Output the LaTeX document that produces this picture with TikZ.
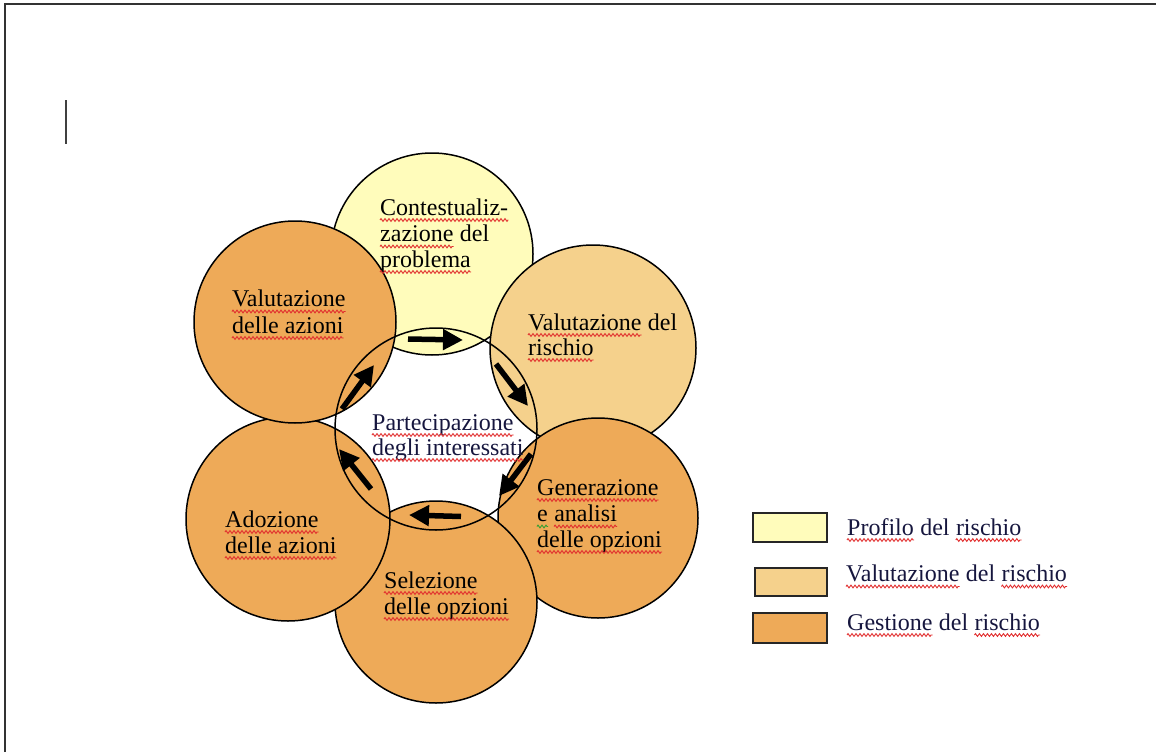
\documentclass[tikz,border=0pt]{standalone}
\usepackage{fontspec}
\setmainfont{Liberation Serif}
\usetikzlibrary{arrows.meta,decorations.pathmorphing}
\definecolor{cyel}{RGB}{255,252,187}
\definecolor{clor}{RGB}{245,209,140}
\definecolor{cor}{RGB}{238,170,88}
\definecolor{sqred}{RGB}{225,45,45}
\definecolor{sqgreen}{RGB}{50,160,50}
\definecolor{navy}{RGB}{22,22,62}
\tikzset{
  bubble/.style={circle, draw=black, line width=1.5pt, minimum size=202pt, inner sep=0pt},
  lbl/.style={anchor=base west, inner sep=0pt, font=\fontsize{24}{27}\selectfont},
  flow/.style={line width=5.5pt, -{Triangle[length=20pt,width=20pt]}},
  legbox/.style={draw=black!85, line width=2pt},
  sqline/.style={draw=sqred, line width=0.9pt, decorate,
    decoration={zigzag, segment length=4pt, amplitude=1.4pt}}
}
\newcommand\squ[2][sqred]{\draw[sqline, draw=#1] ([yshift=-5pt]#2.base west) -- ([yshift=-5pt]#2.base east);}
\begin{document}
\begin{tikzpicture}[x=1pt,y=-1pt]
\useasboundingbox (0,0) rectangle (1156,752);
% page frame and cursor
\draw[line width=2pt, draw=black!80] (5,752) -- (5,4.5) -- (1156,4.5);
\draw[line width=1.8pt, draw=black!75] (66,100) -- (66,144);
% circles
\node[bubble, fill=cyel] (ctx) at (432,254) {};
\node[bubble, fill=clor, minimum size=206pt] (vrs) at (593,348) {};
\node[bubble, fill=cor, minimum size=200pt] (gen) at (598,518) {};
\node[bubble, fill=cor] (sel) at (436,602) {};
\node[bubble, fill=cor, minimum size=204pt] (ado) at (288,519) {};
\node[bubble, fill=cor] (val) at (295,322) {};
\node[bubble] (par) at (436,429) {};
% arrows
\coordinate (a1s) at (408,339); \coordinate (a1e) at (463,340);
\coordinate (a2s) at (496,364); \coordinate (a2e) at (528,406);
\coordinate (a3s) at (531,454); \coordinate (a3e) at (499,496);
\coordinate (a4s) at (461,516.5); \coordinate (a4e) at (409,515);
\coordinate (a5s) at (371,489); \coordinate (a5e) at (339,449);
\coordinate (a6s) at (342,409); \coordinate (a6e) at (374,365);
\draw[flow] (a1s) -- (a1e);
\draw[flow] (a2s) -- (a2e);
\draw[flow] (a3s) -- (a3e);
\draw[flow] (a4s) -- (a4e);
\draw[flow] (a5s) -- (a5e);
\draw[flow] (a6s) -- (a6e);
% circle texts
\node[lbl] (t1a) at (380,215) {Contestualiz-};
\node[lbl] (t1b) at (380,241.5) {zazione};
\node[lbl] (t1b2) at ([xshift=6pt]t1b.base east) {del};
\node[lbl] (t1c) at (380,267) {problema};
\node[lbl] (t2a) at (232,306.5) {Valutazione};
\node[lbl] (t2b) at (232,333) {delle azioni};
\node[lbl] (t3a) at (528,330) {Valutazione};
\node[lbl] (t3a2) at ([xshift=6pt]t3a.base east) {del};
\node[lbl] (t3b) at (528,355) {rischio};
\node[lbl, text=navy] (t4a) at (372,430) {Partecipazione};
\node[lbl, text=navy] (t4b) at (372,455) {degli interessati};
\node[lbl] (t5a) at (537,495) {Generazione};
\node[lbl] (t5b) at (537,521.5) {e};
\node[lbl] (t5b2) at ([xshift=6pt]t5b.base east) {analisi};
\node[lbl] (t5c) at (537,547) {delle opzioni};
\node[lbl] (t6a) at (225,527) {Adozione};
\node[lbl] (t6b) at (225,553) {delle azioni};
\node[lbl] (t7a) at (384,588) {Selezione};
\node[lbl] (t7b) at (384,614) {delle opzioni};
% legend
\draw[legbox, fill=cyel] (753,513) rectangle (827,542);
\draw[legbox, fill=clor] (755,568) rectangle (827,596);
\draw[legbox, fill=cor] (753,613) rectangle (827,643);
\node[lbl, text=navy] (l1a) at (847,535) {Profilo};
\node[lbl, text=navy] (l1b) at ([xshift=6pt]l1a.base east) {del};
\node[lbl, text=navy] (l1c) at ([xshift=6pt]l1b.base east) {rischio};
\node[lbl, text=navy] (l2a) at (846,581.5) {Valutazione};
\node[lbl, text=navy] (l2b) at ([xshift=6pt]l2a.base east) {del};
\node[lbl, text=navy] (l2c) at ([xshift=6pt]l2b.base east) {rischio};
\node[lbl, text=navy] (l3a) at (847,630) {Gestione};
\node[lbl, text=navy] (l3b) at ([xshift=6pt]l3a.base east) {del};
\node[lbl, text=navy] (l3c) at ([xshift=6pt]l3b.base east) {rischio};
% spell-check squiggles
\squ{t1a} \squ{t1b} \squ{t1c} \squ{t2a} \squ{t2b} \squ{t3a} \squ{t3b}
\squ{t4a} \squ{t4b} \squ{t5a} \squ[sqgreen]{t5b} \squ{t5b2} \squ{t5c}
\squ{t6a} \squ{t6b} \squ{t7a} \squ{t7b}
\squ{l1a} \squ{l1c} \squ{l2a} \squ{l2c} \squ{l3a} \squ{l3c}
\end{tikzpicture}
\end{document}
